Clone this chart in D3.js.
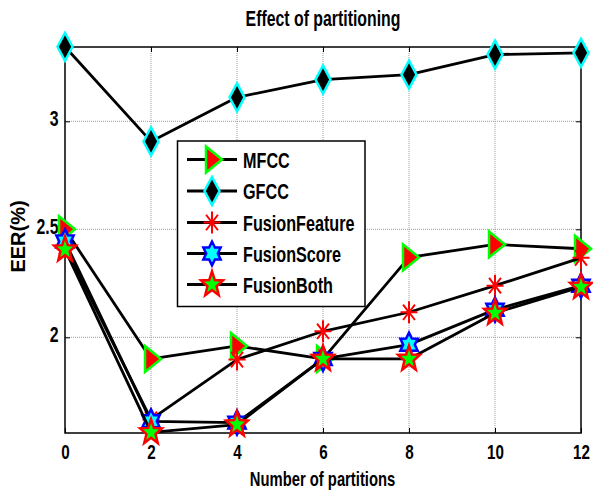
<!DOCTYPE html>
<html>
<head>
<meta charset="utf-8">
<script src="https://cdn.jsdelivr.net/npm/d3@7"></script>
<style>
  html, body { margin: 0; padding: 0; background: #fff; }
  svg text { font-family: "Liberation Sans", Arial, sans-serif; font-weight: bold; fill: #000; }
</style>
</head>
<body>
<svg id="chart" width="593" height="495"></svg>
<script>
// Number of partitions on the x axis
const partitions = [0, 2, 4, 6, 8, 10, 12];

// EER (%) for each feature set
const mfcc          = [2.50, 1.90, 1.96, 1.90, 2.37, 2.43, 2.41];
const gfcc          = [3.345, 2.907, 3.111, 3.193, 3.216, 3.309, 3.317];
const fusionFeature = [2.42, 1.62, 1.897, 2.028, 2.116, 2.239, 2.368];
const fusionScore   = [2.444, 1.611, 1.605, 1.90, 1.966, 2.128, 2.239];
const fusionBoth    = [2.406, 1.56, 1.596, 1.90, 1.90, 2.113, 2.233];

const seriesNames = ["MFCC", "GFCC", "FusionFeature", "FusionScore", "FusionBoth"];
const seriesValues = [mfcc, gfcc, fusionFeature, fusionScore, fusionBoth];

const xTicks = [0, 2, 4, 6, 8, 10, 12];
const yTicks = [2, 2.5, 3];
const yTickLabels = ["2", "2.5", "3"];

const svg = d3.select("#chart");
const plot = { left: 65, right: 581, top: 47, bottom: 433 };

const x = d3.scaleLinear().domain([0, 12]).range([plot.left, plot.right]);
const y = d3.scaleLinear().domain([1.557, 3.344]).range([plot.bottom, plot.top]);

// Condensed bold lettering: a wide bold face squeezed horizontally
function label(parent, px, py, str, size, sx, anchor) {
  return parent.append("text")
    .attr("transform", `translate(${px},${py}) scale(${sx},1)`)
    .attr("text-anchor", anchor || "middle")
    .attr("font-size", size)
    .text(str);
}

// Grid
const grid = svg.append("g");
grid.selectAll("line.gx").data(xTicks.slice(1, -1)).join("line")
  .attr("x1", d => x(d)).attr("x2", d => x(d))
  .attr("y1", plot.top).attr("y2", plot.bottom)
  .attr("stroke", "#9a9a9a").attr("stroke-width", 1).attr("stroke-dasharray", "1,1");
grid.selectAll("line.gy").data(yTicks).join("line")
  .attr("y1", d => y(d)).attr("y2", d => y(d))
  .attr("x1", plot.left).attr("x2", plot.right)
  .attr("stroke", "#9a9a9a").attr("stroke-width", 1).attr("stroke-dasharray", "1,1");

// Axes with inward ticks on all four sides
const tickLen = 5;
const xAxisB = d3.axisBottom(x).tickValues(xTicks).tickSizeInner(-tickLen).tickSizeOuter(0).tickFormat(d3.format("d"));
const xAxisT = d3.axisTop(x).tickValues(xTicks).tickSizeInner(-tickLen).tickSizeOuter(0).tickFormat("");
const yAxisL = d3.axisLeft(y).tickValues(yTicks).tickSizeInner(-tickLen).tickSizeOuter(0).tickFormat((d, i) => yTickLabels[i]);
const yAxisR = d3.axisRight(y).tickValues(yTicks).tickSizeInner(-tickLen).tickSizeOuter(0).tickFormat("");

function styleAxis(g) {
  g.select(".domain").remove();
  g.selectAll(".tick line").attr("stroke", "#000").attr("stroke-width", 1);
  g.selectAll(".tick text")
    .attr("font-family", "'Liberation Sans', Arial, sans-serif").attr("font-weight", "bold");
}
svg.append("g").attr("transform", `translate(0,${plot.bottom})`).call(xAxisB).call(styleAxis)
  .selectAll(".tick text")
  .attr("font-size", 20).attr("y", 0).attr("dy", 0)
  .attr("transform", "translate(0,26) scale(0.76,1)");
svg.append("g").attr("transform", `translate(0,${plot.top})`).call(xAxisT).call(styleAxis);
svg.append("g").attr("transform", `translate(${plot.left},0)`).call(yAxisL).call(styleAxis)
  .selectAll(".tick text")
  .attr("font-size", 22).attr("x", 0).attr("dy", 0)
  .attr("transform", "translate(-6.5,4.5) scale(0.72,1)");
svg.append("g").attr("transform", `translate(${plot.right},0)`).call(yAxisR).call(styleAxis);

// Frame
svg.append("rect")
  .attr("x", plot.left).attr("y", plot.top)
  .attr("width", plot.right - plot.left).attr("height", plot.bottom - plot.top)
  .attr("fill", "none").attr("stroke", "#000").attr("stroke-width", 1.5);

// Marker shapes (path strings centred on 0,0)
function starPath(n, ro, ri, sx, sy) {
  const pts = [];
  for (let k = 0; k < 2 * n; k++) {
    const a = -Math.PI / 2 + k * Math.PI / n;
    const r = k % 2 === 0 ? ro : ri;
    pts.push([r * Math.cos(a) * sx, r * Math.sin(a) * sy]);
  }
  return "M" + pts.map(p => p[0].toFixed(2) + "," + p[1].toFixed(2)).join("L") + "Z";
}
const markers = {
  MFCC: g => g.append("path").attr("d", "M-6,-13L10,0L-6,13Z")
    .attr("fill", "#ff0000").attr("stroke", "#00ff00").attr("stroke-width", 2.5).attr("stroke-linejoin", "miter"),
  GFCC: g => g.append("path").attr("d", "M0,-14L7.5,0L0,14L-7.5,0Z")
    .attr("fill", "#000").attr("stroke", "#00ffff").attr("stroke-width", 2.5),
  FusionFeature: g => {
    const r = 8.5, s = 1.3;
    const d = [[0, -r * s, 0, r * s], [-r, 0, r, 0],
               [-r * 0.7, -r * 0.7 * s, r * 0.7, r * 0.7 * s], [-r * 0.7, r * 0.7 * s, r * 0.7, -r * 0.7 * s]]
      .map(l => `M${l[0]},${l[1]}L${l[2]},${l[3]}`).join("");
    g.append("path").attr("d", d).attr("stroke", "#ff0000").attr("stroke-width", 2).attr("fill", "none");
  },
  FusionScore: g => g.append("path").attr("d", starPath(6, 10, 5.8, 1, 1.2))
    .attr("fill", "#00ffff").attr("stroke", "#0000ff").attr("stroke-width", 2.5),
  FusionBoth: g => g.append("path").attr("d", starPath(5, 11.5, 4.8, 1, 1.15))
    .attr("fill", "#00ff00").attr("stroke", "#ff0000").attr("stroke-width", 2.5).attr("stroke-linejoin", "miter")
};

const line = d3.line().x((d, i) => x(partitions[i])).y(d => y(d));

seriesNames.forEach((name, si) => {
  const vals = seriesValues[si];
  const g = svg.append("g");
  g.append("path").datum(vals).attr("d", line)
    .attr("fill", "none").attr("stroke", "#000").attr("stroke-width", 2.8).attr("stroke-linejoin", "round");
  vals.forEach((v, i) => {
    const m = g.append("g").attr("transform", `translate(${x(partitions[i])},${y(v)})`);
    markers[name](m);
  });
});

// Legend
const legend = svg.append("g");
legend.append("rect").attr("x", 177.5).attr("y", 141).attr("width", 187.5).attr("height", 165.5)
  .attr("fill", "#fff").attr("stroke", "#000").attr("stroke-width", 1.5);
const legendY = [159.5, 191, 222.5, 253.5, 284.5];
seriesNames.forEach((name, i) => {
  const yy = legendY[i];
  legend.append("line").attr("x1", 187).attr("x2", 237).attr("y1", yy).attr("y2", yy)
    .attr("stroke", "#000").attr("stroke-width", 2.8);
  const m = legend.append("g").attr("transform", `translate(212,${yy})`);
  markers[name](m);
  label(legend, 243, yy + 8, name, 22.5, 0.72, "start");
});

// Titles
label(svg, 323, 26, "Effect of partitioning", 22, 0.72);
label(svg, 322.5, 486, "Number of partitions", 20, 0.74);
svg.append("text").attr("transform", "translate(25,236.5) rotate(-90)").attr("text-anchor", "middle")
  .attr("font-size", 20).text("EER(%)");
</script>
</body>
</html>
